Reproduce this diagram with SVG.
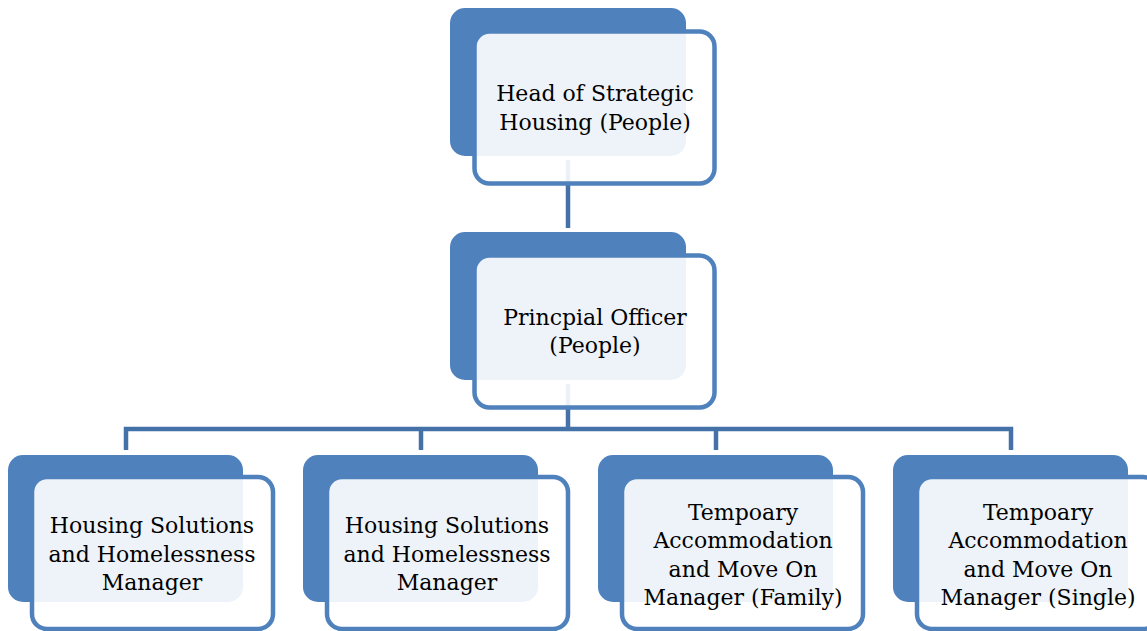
<svg xmlns="http://www.w3.org/2000/svg" width="1147" height="631" viewBox="0 0 1147 631">
<style>
.back{fill:#4F81BD}
.front{fill:#FFFFFF;fill-opacity:0.9;stroke:#4F81BD;stroke-width:4.5}
.conn{fill:none;stroke:#4472A8;stroke-width:4.5;stroke-linejoin:miter}
.lbl{font-family:"DejaVu Serif","Liberation Serif",serif;font-size:22px;fill:#000;text-anchor:middle}
</style>
<rect width="1147" height="631" fill="#FFFFFF"/>
<g id="connectors">
<path class="conn" d="M568,160 V228"/>
<path class="conn" d="M568,384 V429"/>
<path class="conn" d="M126,450 V429 H1011 V450"/>
<path class="conn" d="M421,429 V450"/>
<path class="conn" d="M716,429 V450"/>
</g>
<g id="node-head">
<rect class="back" x="450" y="8" width="236" height="148" rx="15"/>
<rect class="front" x="474.5" y="31.5" width="240" height="152" rx="15"/>
<text class="lbl" x="595" y="101">Head of Strategic</text>
<text class="lbl" x="595" y="130">Housing (People)</text>
</g>
<g id="node-principal">
<rect class="back" x="450" y="232" width="236" height="148" rx="15"/>
<rect class="front" x="474.5" y="255.5" width="240" height="152" rx="15"/>
<text class="lbl" x="595" y="325">Princpial Officer</text>
<text class="lbl" x="595" y="353">(People)</text>
</g>
<g id="node-hs1">
<rect class="back" x="8" y="455" width="235" height="147" rx="15"/>
<rect class="front" x="32" y="477" width="241" height="152" rx="15"/>
<text class="lbl" x="152" y="533">Housing Solutions</text>
<text class="lbl" x="152" y="562">and Homelessness</text>
<text class="lbl" x="152" y="590">Manager</text>
</g>
<g id="node-hs2">
<rect class="back" x="303" y="455" width="235" height="147" rx="15"/>
<rect class="front" x="327" y="477" width="241" height="152" rx="15"/>
<text class="lbl" x="447" y="533">Housing Solutions</text>
<text class="lbl" x="447" y="562">and Homelessness</text>
<text class="lbl" x="447" y="590">Manager</text>
</g>
<g id="node-ta-family">
<rect class="back" x="598" y="455" width="235" height="147" rx="15"/>
<rect class="front" x="622" y="477" width="241" height="152" rx="15"/>
<text class="lbl" x="743" y="520">Tempoary</text>
<text class="lbl" x="743" y="548">Accommodation</text>
<text class="lbl" x="743" y="577">and Move On</text>
<text class="lbl" x="743" y="605">Manager (Family)</text>
</g>
<g id="node-ta-single">
<rect class="back" x="893" y="455" width="235" height="147" rx="15"/>
<rect class="front" x="917" y="477" width="241" height="152" rx="15"/>
<text class="lbl" x="1038" y="520">Tempoary</text>
<text class="lbl" x="1038" y="548">Accommodation</text>
<text class="lbl" x="1038" y="577">and Move On</text>
<text class="lbl" x="1038" y="605">Manager (Single)</text>
</g>
</svg>
